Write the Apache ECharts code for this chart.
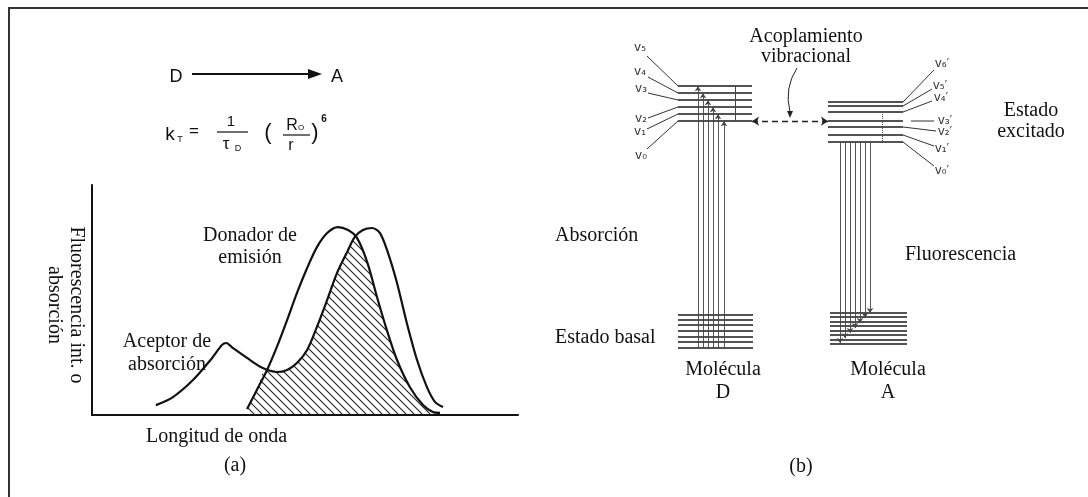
<!DOCTYPE html>
<html><head><meta charset="utf-8">
<script src="https://cdn.jsdelivr.net/npm/echarts@6/dist/echarts.min.js"></script>
<style>html,body{margin:0;padding:0;background:#fff}#c{width:1088px;height:497px}</style>
</head><body><div id="c"></div>
<script>
// ---------- Panel (a): spectra [wavelength (a.u.), intensity (a.u.)] ----------
const acceptorAbs = [[15.0,4.3],[19.0,7.8],[23.7,15.2],[28.2,24.8],[30.5,30.4],[31.5,31.3],[33.1,29.1],[36.4,24.8],[40.1,20.4],[43.4,18.7],[45.8,19.6],[48.1,22.6],[50.5,28.3],[52.8,38.3],[55.2,50.0],[57.5,61.7],[59.9,70.9],[61.7,77.4],[63.6,80.4],[65.7,81.3],[67.6,79.1],[69.5,70.4],[71.6,57.4],[73.9,40.0],[76.3,23.9],[78.6,12.2],[80.5,5.7],[82.4,3.5]];
const donorEm = [[36.4,2.6],[38.7,10.9],[41.1,19.6],[43.4,29.6],[45.8,41.3],[48.1,53.0],[50.5,63.9],[52.8,73.0],[55.2,79.1],[57.7,81.7],[60.1,80.4],[62.2,77.0],[64.6,66.5],[66.9,51.3],[69.2,37.0],[71.6,23.9],[74.6,12.2],[77.7,4.3],[80.0,1.3],[81.7,0.9]];
const overlapArea = [[36.4,2.6],[38.7,10.9],[40.8,20.0],[43.4,18.7],[45.8,19.6],[48.1,22.6],[50.5,28.3],[52.8,38.3],[55.2,50.0],[57.5,61.7],[59.9,70.9],[61.9,77.2],[64.6,66.5],[66.9,51.3],[69.2,37.0],[71.6,23.9],[74.6,12.2],[77.7,4.3],[80.0,1.3],[81.7,0.9]];

// ---------- Panel (b): energy levels (a.u.) ----------
const dExcited = [71.1, 73.1, 75.1, 77.1, 79.1, 81.1];          // v0..v5
const aExcited = [65.1, 67.1, 69.4, 71.1, 73.7, 75.4, 76.6];    // v0'..v6'
const dGround  = [6.3, 8.0, 9.4, 11.1, 12.9, 14.3, 15.7];
const aGround  = [7.4, 8.6, 10.0, 11.1, 12.6, 13.7, 15.1, 16.3];
const absorptionTargets = [5, 4, 3, 2, 1, 0];                   // excited level reached by each absorption line
const fluorescenceEnds = [7.7, 9.1, 10.6, 12.0, 13.4, 14.9, 16.3];
const dLabels = ['v₀','v₁','v₂','v₃','v₄','v₅'];
const aLabels = ['v₀′','v₁′','v₂′','v₃′','v₄′','v₅′','v₆′'];

// ---------- layout ----------
const DX = [27.6, 42.4], DGX = [27.6, 42.6], AX = [57.6, 72.6], AGX = [58, 73.4];
const absX = [31.6, 32.6, 33.6, 34.6, 35.6, 36.8];
const fluX = [60, 61, 62, 63, 64, 65, 66];

const P = 8;
const pc = document.createElement('canvas');
pc.width = P; pc.height = P;
const cx = pc.getContext('2d');
cx.strokeStyle = '#222'; cx.lineWidth = 1.1; cx.beginPath();
for (let k = -1; k <= 1; k++) { cx.moveTo(-1, -1 + P*k); cx.lineTo(P + 1, P + 1 + P*k); }
cx.stroke();

const chart = echarts.init(document.getElementById('c'), null, {renderer: 'canvas'});
const hideAx = (g) => ({gridIndex: g, type: 'value', min: 0, max: 100, show: false});
const levelLine = (xs, y) => ({coords: [[xs[0], y], [xs[1], y]]});

const serif = '"Liberation Serif", "Times New Roman", serif';
const sans = '"Liberation Sans", Arial, sans-serif';
function T(text, x, y, o) {
  o = o || {};
  const al = o.align || 'center';
  return {type: 'text', x, y, rotation: o.rot || 0, silent: true, z: 100,
    style: {text, font: o.font || ('20px ' + serif), fill: o.fill || '#111',
      align: al, textAlign: al, verticalAlign: 'middle', textVerticalAlign: 'middle',
      lineHeight: o.lh || 22}};
}
function L(x1, y1, x2, y2, w, c) {
  return {type: 'line', silent: true, z: 100, shape: {x1, y1, x2, y2}, style: {stroke: c || '#222', lineWidth: w || 1}};
}

const dLabPos = [[641,156],[640,132],[641,119],[641,89],[640,72],[640,48]];
const dLeadStart = [[647,149],[647,129],[648,118],[648,93],[648,77],[647,56]];
const dLevPx = [121,114,107,100,93,86];
const aLabPos = [[942,171],[942,149],[945,132],[945,121],[941,98],[940,86],[942,64]];
const aLeadEnd = [[934,166],[934,146],[936,131],[934,121],[932,101],[932,89],[934,70]];
const aLevPx = [142,135,127,121,112,106,102];
const vFont = '12px "DejaVu Sans", sans-serif';

const graphics = [
  {type: 'polyline', silent: true, shape: {points: [[9,497],[9,8],[1088,8]]}, style: {stroke: '#333', lineWidth: 2, fill: null}},
  // D -> A
  T('D', 176, 77, {font: '18px ' + sans}),
  L(192, 74, 314, 74, 1.8, '#111'),
  {type: 'polygon', silent: true, shape: {points: [[308,69],[322,74],[308,79]]}, style: {fill: '#111'}},
  T('A', 337, 77, {font: '18px ' + sans}),
  // kT = 1/tauD (R0/r)^6
  T('k', 170, 135, {font: '19px ' + sans}),
  T('T', 180, 140, {font: '9px ' + sans}),
  T('=', 194, 131, {font: '17px ' + sans}),
  T('1', 231, 122, {font: '15px ' + sans}),
  L(217, 132, 248, 132, 1.2, '#111'),
  T('τ', 226, 144, {font: '17px ' + sans}),
  T('D', 238, 149, {font: '9px ' + sans}),
  T('(', 268, 133, {font: '22px ' + sans}),
  T('R', 292, 126, {font: '16px ' + sans}),
  T('O', 301, 128, {font: '8px ' + sans}),
  L(283, 135, 310, 135, 1.2, '#111'),
  T('r', 291, 146, {font: '16px ' + sans}),
  T(')', 315, 133, {font: '22px ' + sans}),
  T('6', 324, 119, {font: 'bold 10px ' + sans}),
  // panel (a) texts
  T('Fluorescencia int. o\nabsorción', 65, 305, {rot: -Math.PI/2}),
  T('Donador de\nemisión', 250, 247),
  T('Aceptor de\nabsorción', 167, 353, {lh: 23}),
  T('Longitud de onda', 146, 437, {align: 'left'}),
  T('(a)', 235, 466),
  // panel (b) texts
  T('Acoplamiento\nvibracional', 806, 47, {lh: 20}),
  T('Estado\nexcitado', 1031, 121, {lh: 21}),
  T('Absorción', 555, 236, {align: 'left'}),
  T('Fluorescencia', 905, 255, {align: 'left'}),
  T('Estado basal', 555, 338, {align: 'left'}),
  T('Molécula\nD', 723, 381, {lh: 23}),
  T('Molécula\nA', 888, 381, {lh: 23}),
  T('(b)', 801, 467),
  {type: 'bezierCurve', silent: true, shape: {x1: 797, y1: 68, x2: 790, y2: 112, cpx1: 784, cpy1: 88}, style: {stroke: '#222', lineWidth: 1, fill: null}},
  {type: 'polygon', silent: true, shape: {points: [[787,111],[793,111],[790,118]]}, style: {fill: '#222'}}
];
dLabels.forEach((t, i) => {
  graphics.push(T(t, dLabPos[i][0], dLabPos[i][1], {font: vFont, fill: '#333'}));
  graphics.push(L(dLeadStart[i][0], dLeadStart[i][1], 678, dLevPx[i], 1, '#333'));
});
aLabels.forEach((t, i) => {
  graphics.push(T(t, aLabPos[i][0], aLabPos[i][1], {font: vFont, fill: '#333'}));
  graphics.push(L(i === 3 ? 911 : 903, aLevPx[i], aLeadEnd[i][0], aLeadEnd[i][1], 1, '#333'));
});

const levelData = []
  .concat(dExcited.map(y => levelLine(DX, y)))
  .concat(aExcited.map(y => levelLine(AX, y)))
  .concat(dGround.map(y => levelLine(DGX, y)))
  .concat(aGround.map(y => levelLine(AGX, y)));

const absData = absorptionTargets.map((k, i) => ({coords: [[absX[i], dGround[0]], [absX[i], dExcited[k]]]}));
const fluData = fluorescenceEnds.map((y, i) => ({coords: [[fluX[i], aExcited[0]], [fluX[i], y]]}));

chart.setOption({
  animation: false,
  backgroundColor: '#fff',
  grid: [
    {left: 92, top: 185, width: 426, height: 230},
    {left: 540, top: 20, width: 500, height: 350}
  ],
  xAxis: [
    {gridIndex: 0, type: 'value', min: 0, max: 100, axisLine: {show: true, onZero: false, lineStyle: {color: '#111', width: 2}}, axisTick: {show: false}, axisLabel: {show: false}, splitLine: {show: false}},
    hideAx(1)
  ],
  yAxis: [
    {gridIndex: 0, type: 'value', min: 0, max: 100, axisLine: {show: true, onZero: false, lineStyle: {color: '#111', width: 2}}, axisTick: {show: false}, axisLabel: {show: false}, splitLine: {show: false}},
    hideAx(1)
  ],
  series: [
    {name: 'Solapamiento', type: 'line', xAxisIndex: 0, yAxisIndex: 0, data: overlapArea, smooth: 0.3, symbol: 'none',
      lineStyle: {width: 0}, areaStyle: {color: {image: pc, repeat: 'repeat'}, opacity: 1}, z: 1},
    {name: 'Aceptor de absorción', type: 'line', xAxisIndex: 0, yAxisIndex: 0, data: acceptorAbs, smooth: 0.3, symbol: 'none',
      lineStyle: {color: '#111', width: 2.2}, z: 3},
    {name: 'Donador de emisión', type: 'line', xAxisIndex: 0, yAxisIndex: 0, data: donorEm, smooth: 0.3, symbol: 'none',
      lineStyle: {color: '#111', width: 2.2}, z: 3},
    {name: 'Niveles', type: 'lines', coordinateSystem: 'cartesian2d', xAxisIndex: 1, yAxisIndex: 1, symbol: 'none',
      lineStyle: {color: '#1a1a1a', width: 1.6, opacity: 1}, data: levelData, z: 4},
    {name: 'Absorción', type: 'lines', coordinateSystem: 'cartesian2d', xAxisIndex: 1, yAxisIndex: 1, symbol: ['none', 'arrow'], symbolSize: 5,
      lineStyle: {color: '#444', width: 0.9, opacity: 1}, data: absData, z: 5},
    {name: 'Fluorescencia', type: 'lines', coordinateSystem: 'cartesian2d', xAxisIndex: 1, yAxisIndex: 1, symbol: ['none', 'arrow'], symbolSize: 5,
      lineStyle: {color: '#444', width: 0.9, opacity: 1}, data: fluData, z: 5},
    {name: 'Relajación', type: 'lines', coordinateSystem: 'cartesian2d', xAxisIndex: 1, yAxisIndex: 1, symbol: 'none',
      lineStyle: {color: '#444', width: 1, opacity: 1},
      data: [{coords: [[39, dExcited[5]], [39, dExcited[0]]]}, {coords: [[68.4, aExcited[4]], [68.4, aExcited[0]]], lineStyle: {type: 'dotted'}}], z: 5},
    {name: 'Acoplamiento', type: 'lines', coordinateSystem: 'cartesian2d', xAxisIndex: 1, yAxisIndex: 1, symbol: ['arrow', 'arrow'], symbolSize: 7,
      lineStyle: {color: '#222', width: 1.3, type: [6, 4], opacity: 1},
      data: [{coords: [[DX[1], dExcited[0]], [AX[0], aExcited[3]]]}], z: 5}
  ],
  graphic: graphics
});
</script></body></html>
